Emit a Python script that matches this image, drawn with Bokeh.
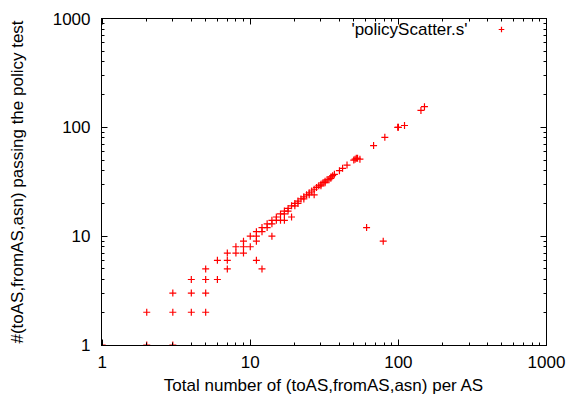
from bokeh.plotting import figure
from bokeh.models import (ColumnDataSource, LogAxis, LogTicker, Label, Legend, LegendItem,
                          Range1d, CustomJSTickFormatter)
from bokeh.embed import file_html
from bokeh.resources import INLINE

# data: (total per AS, passing the policy test)
total = [1, 2, 3, 2, 3, 3, 4, 4, 4, 5, 5, 5, 5, 6, 6, 7, 7, 7, 8, 8, 9, 9, 9,
         10, 10, 11, 11, 11, 11, 12, 12, 12, 13, 13, 14, 14, 14, 15, 15, 16, 16,
         17, 17, 17, 18, 18, 19, 19, 20, 20, 21, 21, 22, 23, 23, 24, 25, 25, 26,
         27, 27, 28, 29, 30, 30, 31, 32, 32, 33, 34, 35, 35, 36, 37, 40, 42, 45,
         50, 51, 52, 53, 55, 61, 68, 79, 81, 99, 100, 110, 142, 150]
passing = [1, 1, 1, 2, 2, 3, 2, 3, 4, 2, 3, 4, 5, 4, 6, 5, 6, 7, 7, 8, 7, 8, 9,
           8, 10, 6, 9, 10, 11, 5, 11, 12, 12, 13, 10, 13, 14, 14, 15, 14, 16,
           14, 16, 17, 17, 18, 15, 19, 19, 20, 20, 21, 22, 22, 23, 24, 24, 25, 26,
           24, 27, 28, 29, 29, 30, 31, 31, 32, 33, 33, 34, 35, 36, 37, 40, 42, 45,
           50, 51, 52, 52, 51, 12, 68, 9, 81, 100, 100, 104, 143, 155]
series_name = "'policyScatter.s'"
x_title = "Total number of (toAS,fromAS,asn) per AS"
y_title = "#(toAS,fromAS,asn) passing the policy test"

FONT = "Liberation Sans"
FS = "17px"
RED = "#ff0000"

p = figure(width=569, height=401, x_axis_type="log", y_axis_type="log",
           x_range=Range1d(0.99, 1000), y_range=Range1d(0.99, 1000),
           output_backend="svg", toolbar_location=None,
           min_border_left=101, min_border_right=23,
           min_border_top=18, min_border_bottom=56)
p.grid.visible = False
p.outline_line_color = "black"
p.outline_line_width = 1
p.background_fill_color = "white"
p.border_fill_color = "white"

src = ColumnDataSource(dict(x=total, y=passing))
r = p.scatter("x", "y", source=src, marker="cross", size=7, line_width=1.2,
              line_color=RED)

def style(ax, labels=True):
    ax.ticker = LogTicker(num_minor_ticks=10)
    ax.axis_line_color = "black"
    ax.major_tick_in = 6
    ax.major_tick_out = 0
    ax.minor_tick_in = 3
    ax.minor_tick_out = 0
    ax.major_tick_line_color = "black"
    ax.minor_tick_line_color = "black"
    if labels:
        ax.formatter = CustomJSTickFormatter(code="return String(Math.round(tick));")
        ax.major_label_text_font = FONT
        ax.major_label_text_font_size = FS
        ax.major_label_text_color = "black"
        ax.axis_label_text_font = FONT
        ax.axis_label_text_font_size = FS
        ax.axis_label_text_font_style = "normal"
        ax.axis_label_text_color = "black"
    else:
        ax.formatter = CustomJSTickFormatter(code="return '';")
        ax.major_label_text_font_size = "2px"
        ax.major_label_standoff = 0

xa = p.xaxis[0]
ya = p.yaxis[0]
style(xa)
style(ya)
xa.axis_label = x_title
ya.axis_label = y_title
xa.major_label_standoff = 10
xa.axis_label_standoff = 5
ya.major_label_standoff = 11
ya.axis_label_standoff = 23

ra = LogAxis()
style(ra, labels=False)
p.add_layout(ra, "right")
ta = LogAxis()
style(ta, labels=False)
p.add_layout(ta, "above")

p.add_layout(Label(x=366, y=316, x_units="screen", y_units="screen",
                   text=series_name, text_font=FONT, text_font_size=FS,
                   text_align="right", text_baseline="middle", text_color="black"))

leg = Legend(items=[LegendItem(label=" ", renderers=[r])],
             location=(391, 309), padding=0, margin=0, spacing=0,
             glyph_width=18, glyph_height=14, label_width=0, label_standoff=0,
             border_line_color=None, background_fill_alpha=0,
             label_text_font_size="8px")
p.add_layout(leg)

open("out.html", "w").write(file_html(p, INLINE))
